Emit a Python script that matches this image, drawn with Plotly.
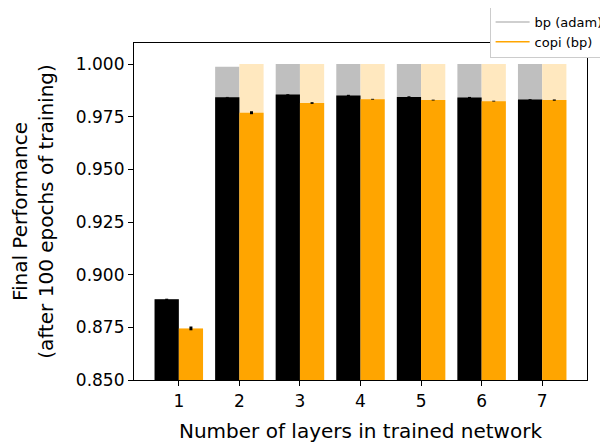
import plotly.graph_objects as go

layers = [1, 2, 3, 4, 5, 6, 7]
tick_labels = ["1", "2", "3", "4", "5", "6", "7"]

bp_train = [0.8883, 0.9987, 1.0000, 1.0000, 1.0000, 1.0000, 1.0000]
bp_test = [0.8883, 0.9842, 0.9856, 0.9851, 0.9844, 0.9841, 0.9832]
bp_err = [0.0003, 0.0002, 0.0002, 0.0003, 0.0003, 0.0003, 0.0002]

copi_train = [0.8744, 1.0000, 1.0000, 1.0000, 1.0000, 1.0000, 1.0000]
copi_test = [0.8745, 0.9769, 0.9815, 0.9833, 0.9829, 0.9824, 0.9829]
copi_err = [0.0009, 0.0007, 0.0004, 0.0002, 0.0002, 0.0002, 0.0003]

GRAY = "#bfbfbf"
LIGHT_ORANGE = "#ffe8bf"
ORANGE = "#ffa500"
FONT = "DejaVu Sans"

fig = go.Figure()

fig.add_trace(go.Bar(x=layers, y=bp_train, offset=-0.4, width=0.4,
                     marker=dict(color=GRAY, line=dict(width=0)), showlegend=False))
fig.add_trace(go.Bar(x=layers, y=copi_train, offset=0.0, width=0.4,
                     marker=dict(color=LIGHT_ORANGE, line=dict(width=0)), showlegend=False))
fig.add_trace(go.Bar(x=layers, y=bp_test, offset=-0.4, width=0.4,
                     marker=dict(color="black", line=dict(width=0)), showlegend=False,
                     error_y=dict(type="data", array=bp_err, color="black",
                                  thickness=3, width=0)))
fig.add_trace(go.Bar(x=layers, y=copi_test, offset=0.0, width=0.4,
                     marker=dict(color=ORANGE, line=dict(width=0)), showlegend=False,
                     error_y=dict(type="data", array=copi_err, color="black",
                                  thickness=3, width=0)))

# legend entries (lines)
fig.add_trace(go.Scatter(x=[None], y=[None], mode="lines", name="bp (adam)",
                         line=dict(color=GRAY, width=1.5)))
fig.add_trace(go.Scatter(x=[None], y=[None], mode="lines", name="copi (bp)",
                         line=dict(color=ORANGE, width=1.5)))

fig.update_layout(
    width=608, height=443,
    margin=dict(l=126, r=29, t=35, b=71, autoexpand=False),
    barmode="overlay",
    plot_bgcolor="white", paper_bgcolor="white",
    font=dict(family=FONT, size=17, color="black"),
    legend=dict(x=0.785, y=1.11, xanchor="left", yanchor="top",
                bgcolor="white", bordercolor="#cccccc", borderwidth=1,
                font=dict(size=13, family=FONT), tracegroupgap=0,
                itemwidth=34),
    xaxis=dict(range=[0.26, 7.74], tickmode="array", tickvals=layers, ticktext=tick_labels,
               showline=True, linecolor="black", linewidth=1.2, mirror=True,
               ticks="outside", ticklen=5, tickcolor="black", showgrid=False,
               zeroline=False, automargin=False,
               title=dict(text="Number of layers in trained network", standoff=14)),
    yaxis=dict(range=[0.85, 1.01], tickmode="array",
               tickvals=[0.85, 0.875, 0.9, 0.925, 0.95, 0.975, 1.0],
               ticktext=["0.850", "0.875", "0.900", "0.925", "0.950", "0.975", "1.000"],
               showline=True, linecolor="black", linewidth=1.2, mirror=True,
               ticks="outside", ticklen=5, tickcolor="black", showgrid=False,
               zeroline=False, automargin=False,
               title=dict(text="Final Performance<br>(after 100 epochs of training)", standoff=18)),
)

fig.write_html("out.html")
